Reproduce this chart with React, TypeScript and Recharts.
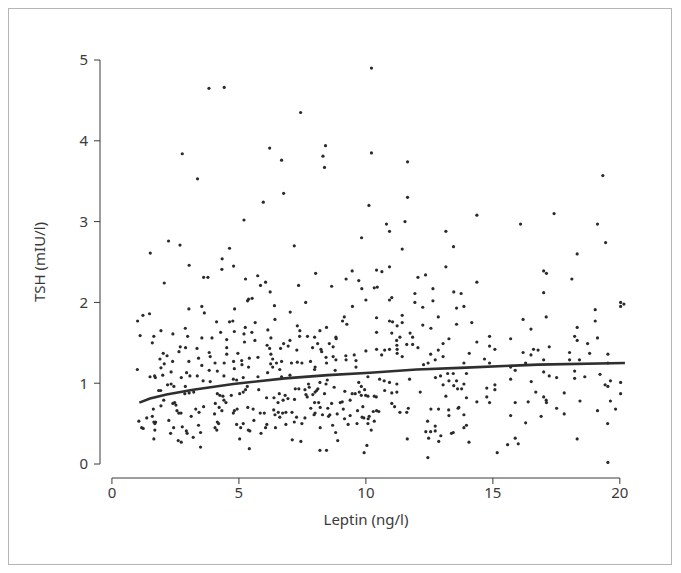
import { ReferenceLine, Scatter, ScatterChart, XAxis, YAxis } from "recharts";

// Leptin (ng/l), TSH (mIU/l) pairs
const highPoints = [
  [3.82, 4.65], [4.42, 4.66], [10.22, 4.9], [7.43, 4.35], [8.41, 3.94], [2.77, 3.84], [3.37, 3.53],
  [6.21, 3.91], [6.68, 3.76], [6.76, 3.35], [5.96, 3.24], [5.2, 3.02], [2.23, 2.76], [2.68, 2.71],
  [4.63, 2.67], [1.51, 2.61], [8.31, 3.81], [8.37, 3.67], [10.22, 3.85], [11.64, 3.74], [11.64, 3.3],
  [10.12, 3.2], [10.81, 2.97], [11.54, 3.0], [10.93, 2.88], [13.15, 2.88], [9.83, 2.8], [7.18, 2.7],
  [11.43, 2.66], [13.45, 2.69], [19.33, 3.57], [14.37, 3.08], [16.09, 2.97], [17.41, 3.1], [19.12, 2.97],
  [19.44, 2.74], [18.32, 2.6],
];

const midLeft = [
  [3.04, 2.46], [4.34, 2.54], [4.33, 2.41], [4.79, 2.45], [2.06, 2.24], [3.61, 2.31], [3.78, 2.31],
  [5.26, 2.29], [5.74, 2.33], [6.05, 2.25], [5.85, 2.21], [6.23, 2.13], [5.38, 2.04], [5.52, 2.05],
  [5.34, 2.02], [6.4, 1.96], [3.03, 1.92], [3.54, 1.95], [3.64, 1.87], [4.83, 1.92], [1.22, 1.84],
  [1.48, 1.86], [1.01, 1.77], [6.42, 1.79], [4.12, 1.76], [4.63, 1.76], [4.76, 1.77], [5.64, 1.75],
  [2.89, 1.68], [1.93, 1.65], [2.4, 1.61], [1.11, 1.59], [1.65, 1.58], [2.98, 1.58], [3.54, 1.56],
  [3.94, 1.56], [4.28, 1.63], [4.82, 1.64], [5.25, 1.69], [5.2, 1.61], [5.51, 1.63], [6.14, 1.66],
  [1.59, 1.5], [4.52, 1.54], [5.22, 1.51], [5.63, 1.53], [6.26, 1.56], [6.11, 1.47], [2.69, 1.45],
  [2.9, 1.44], [3.35, 1.43], [4.52, 1.44], [6.21, 1.43], [6.64, 1.43], [6.76, 1.49], [2.64, 1.39],
  [2.02, 1.37], [2.17, 1.34], [3.83, 1.38], [4.52, 1.36], [4.96, 1.37], [6.26, 1.36], [1.89, 1.3],
  [2.39, 1.27], [3.03, 1.27], [3.41, 1.31], [3.87, 1.33], [4.06, 1.25], [4.42, 1.25], [4.79, 1.27],
  [5.11, 1.28], [5.41, 1.31], [5.75, 1.32], [6.33, 1.3], [6.48, 1.25], [6.68, 1.27],
];

const midCenter = [
  [8.02, 2.36], [7.35, 2.21], [8.65, 2.2], [9.46, 2.39], [9.22, 2.29], [9.72, 2.27], [9.84, 2.17],
  [10.42, 2.4], [10.63, 2.38], [10.93, 2.44], [10.33, 2.18], [10.45, 2.19], [13.15, 2.44], [12.05, 2.31],
  [12.35, 2.34], [12.64, 2.17], [11.93, 2.11], [13.46, 2.13], [7.63, 2.0], [10.0, 2.03], [10.93, 2.03],
  [11.02, 2.06], [11.93, 2.0], [12.64, 2.02], [7.02, 1.88], [9.47, 1.95], [12.24, 1.94], [13.57, 1.93],
  [9.15, 1.82], [9.08, 1.77], [9.25, 1.73], [10.42, 1.81], [10.93, 1.77], [11.05, 1.76], [11.43, 1.84],
  [11.43, 1.75], [11.23, 1.71], [12.85, 1.82], [12.24, 1.72], [12.56, 1.68], [13.57, 1.73], [7.3, 1.71],
  [7.4, 1.65], [8.45, 1.69], [8.19, 1.65], [10.42, 1.63], [11.02, 1.62], [11.74, 1.62], [7.39, 1.58],
  [7.7, 1.58], [7.98, 1.57], [8.82, 1.57], [8.83, 1.55], [11.34, 1.57], [11.84, 1.57], [11.21, 1.53],
  [13.27, 1.55], [7.01, 1.53], [6.94, 1.46], [8.1, 1.49], [8.56, 1.49], [8.71, 1.45], [7.9, 1.44],
  [8.23, 1.42], [11.22, 1.47], [11.61, 1.48], [11.84, 1.48], [11.23, 1.42], [12.05, 1.44], [13.04, 1.49],
  [12.85, 1.41], [7.28, 1.41], [8.26, 1.39], [10.0, 1.4], [10.42, 1.42], [10.74, 1.41], [10.93, 1.42],
  [10.62, 1.35], [11.23, 1.37], [11.43, 1.33], [12.55, 1.36], [13.04, 1.33], [12.73, 1.29], [8.43, 1.32],
  [8.71, 1.33], [8.82, 1.29], [9.21, 1.34], [9.54, 1.35], [9.61, 1.28], [9.22, 1.29], [7.07, 1.25],
  [7.3, 1.26], [7.48, 1.25], [7.82, 1.27], [8.45, 1.25], [12.27, 1.23], [12.45, 1.25],
];

const midRight = [
  [17.0, 2.39], [17.11, 2.36], [18.11, 2.29], [14.37, 2.25], [17.0, 2.12], [13.75, 2.11], [20.03, 2.0],
  [20.16, 1.98], [20.03, 1.95], [19.03, 1.91], [13.86, 1.95], [17.1, 1.82], [16.19, 1.79], [19.03, 1.77],
  [14.17, 1.75], [16.5, 1.67], [18.32, 1.69], [14.87, 1.58], [15.7, 1.55], [18.22, 1.58], [18.32, 1.53],
  [19.12, 1.56], [14.37, 1.51], [14.87, 1.46], [15.08, 1.42], [16.6, 1.42], [16.78, 1.41], [17.22, 1.45],
  [18.73, 1.49], [14.07, 1.37], [16.19, 1.38], [16.5, 1.35], [18.02, 1.38], [18.81, 1.37], [19.53, 1.36],
  [14.67, 1.3], [17.0, 1.29], [18.02, 1.29], [18.41, 1.29], [13.86, 1.25], [14.87, 1.25], [16.29, 1.25],
];

const lowLeft = [
  [1.0, 1.17], [1.5, 1.08], [1.68, 1.09], [1.71, 1.07], [2.0, 1.1], [1.93, 1.19], [2.06, 1.24], [2.33, 1.14],
  [2.94, 1.13], [3.07, 1.09], [2.73, 1.07], [3.36, 1.09], [3.54, 1.22], [3.83, 1.16], [3.59, 1.03],
  [3.87, 1.02], [4.15, 1.15], [4.41, 1.09], [4.78, 1.05], [4.91, 1.04], [4.82, 1.18], [5.17, 1.07],
  [5.33, 0.96], [5.12, 1.23], [5.38, 1.2], [5.75, 1.08], [6.13, 1.13], [6.33, 1.2], [6.25, 1.24],
  [6.68, 1.08], [6.61, 1.17], [1.84, 0.91], [1.92, 0.91], [2.19, 0.98], [2.33, 0.99], [2.44, 0.96],
  [2.89, 0.96], [2.87, 0.87], [3.04, 0.88], [3.22, 0.89], [2.04, 0.79], [1.63, 0.68], [1.59, 0.59],
  [1.37, 0.57], [1.06, 0.53], [1.17, 0.45], [1.23, 0.44], [1.65, 0.52], [1.72, 0.52], [1.69, 0.5],
  [1.69, 0.42], [1.65, 0.31], [1.93, 0.72], [2.24, 0.54], [2.4, 0.75], [2.52, 0.73], [2.47, 0.76],
  [2.56, 0.66], [2.63, 0.63], [2.72, 0.63], [2.31, 0.38], [2.77, 0.46], [2.93, 0.41], [2.96, 0.38],
  [2.43, 0.45], [2.61, 0.29], [2.73, 0.27], [3.12, 0.59], [3.3, 0.68], [3.43, 0.64], [3.61, 0.71],
  [3.41, 0.48], [3.49, 0.39], [3.2, 0.33], [3.49, 0.21], [4.07, 0.75], [4.15, 0.87], [4.25, 0.85],
  [4.37, 0.84], [4.41, 0.79], [4.49, 0.76], [4.04, 0.62], [4.22, 0.7], [4.33, 0.66], [4.15, 0.52],
  [4.2, 0.5], [4.06, 0.45], [4.13, 0.42], [4.78, 0.63], [4.82, 0.66], [4.93, 0.68], [4.7, 0.85],
  [5.03, 0.87], [5.17, 0.89], [5.26, 0.92], [4.91, 0.49], [5.07, 0.45], [5.17, 0.5], [5.37, 0.42],
  [5.43, 0.41], [5.03, 0.31], [5.41, 0.19], [5.35, 0.7], [5.56, 0.68], [5.59, 0.54], [5.78, 0.92],
  [6.09, 0.82], [6.38, 0.82], [5.84, 0.63], [6.0, 0.63], [6.1, 0.49], [6.05, 0.45], [5.87, 0.38],
  [6.44, 0.45], [6.37, 0.67], [6.42, 0.61], [6.55, 0.64], [6.72, 0.63], [6.54, 0.76], [6.59, 0.87],
];

const lowCenter = [
  [8.0, 1.2], [7.98, 1.17], [8.79, 1.16], [9.61, 1.2], [7.01, 1.1], [10.08, 1.08], [11.72, 1.05],
  [12.74, 1.07], [12.94, 1.09], [13.22, 1.12], [13.44, 1.12], [13.04, 0.98], [13.27, 1.03], [13.46, 0.97],
  [13.15, 0.84], [12.14, 0.89], [10.54, 1.05], [10.72, 1.03], [10.93, 1.01], [11.22, 0.99], [10.74, 0.91],
  [11.02, 0.88], [11.22, 0.89], [9.72, 1.01], [9.82, 0.96], [9.95, 0.92], [10.08, 0.84], [9.74, 0.89],
  [9.82, 0.85], [9.99, 0.85], [9.46, 0.87], [9.58, 0.87], [9.17, 0.9], [8.75, 0.95], [8.99, 0.76],
  [9.38, 0.79], [9.11, 0.68], [9.67, 0.66], [9.88, 0.71], [10.33, 0.84], [10.41, 0.83], [11.02, 0.75],
  [11.13, 0.71], [11.67, 0.69], [11.61, 0.64], [11.34, 0.64], [12.56, 0.68], [12.86, 0.68], [13.26, 0.67],
  [13.27, 0.6], [13.63, 0.69], [10.29, 0.65], [10.42, 0.66], [10.51, 0.65], [10.13, 0.59], [9.92, 0.57],
  [10.09, 0.56], [10.08, 0.5], [10.33, 0.53], [10.21, 0.42], [9.85, 0.58], [9.65, 0.5], [9.3, 0.49],
  [9.38, 0.6], [9.16, 0.56], [8.87, 0.62], [8.58, 0.61], [8.53, 0.59], [8.5, 0.69], [8.29, 0.61],
  [8.2, 0.45], [8.81, 0.39], [8.89, 0.29], [8.69, 0.48], [8.19, 0.17], [8.45, 0.17], [10.04, 0.23],
  [9.93, 0.14], [11.63, 0.31], [7.1, 0.3], [7.44, 0.28], [6.85, 0.49], [7.18, 0.52], [7.48, 0.5],
  [7.6, 0.57], [7.96, 0.61], [8.0, 0.63], [6.85, 0.64], [7.09, 0.64], [7.27, 0.58], [7.83, 0.69],
  [6.82, 0.85], [6.93, 0.81], [6.74, 0.79], [7.19, 0.8], [7.22, 0.93], [7.36, 0.93], [7.6, 0.92],
  [7.74, 0.99], [7.77, 0.95], [7.64, 0.86], [7.69, 0.83], [7.91, 0.86], [8.0, 0.89], [8.06, 0.91],
  [8.11, 0.93], [8.19, 1.01], [7.98, 0.76], [8.14, 0.76], [8.37, 0.87], [8.43, 0.99], [8.48, 1.04],
  [9.07, 0.77], [8.65, 0.75], [8.2, 0.7], [6.61, 0.58], [12.43, 0.53], [12.36, 0.4], [12.55, 0.4],
  [12.73, 0.41], [12.73, 0.47], [12.95, 0.35], [12.87, 0.28], [12.47, 0.32], [12.44, 0.08], [13.37, 0.38],
  [13.44, 0.39],
];

const lowRight = [
  [15.7, 1.2], [15.88, 1.16], [19.53, 1.25], [13.96, 1.12], [13.57, 1.03], [13.86, 0.99], [13.61, 0.93],
  [13.77, 0.93], [14.76, 0.94], [15.08, 0.98], [15.08, 0.92], [15.7, 1.05], [16.51, 1.02], [17.0, 1.14],
  [17.22, 1.09], [17.51, 1.07], [18.22, 1.15], [18.22, 1.06], [18.62, 1.08], [19.22, 1.11], [19.42, 0.98],
  [19.53, 0.96], [19.63, 1.03], [20.03, 1.01], [20.03, 0.87], [13.96, 0.82], [14.37, 0.77], [14.76, 0.83],
  [14.87, 0.76], [15.88, 0.76], [16.39, 0.77], [16.69, 0.89], [17.0, 0.83], [17.1, 0.79], [17.11, 0.76],
  [17.81, 0.88], [18.43, 0.78], [19.63, 0.78], [13.66, 0.7], [13.86, 0.61], [17.51, 0.69], [17.81, 0.62],
  [16.9, 0.59], [15.7, 0.6], [19.12, 0.66], [19.83, 0.68], [13.86, 0.45], [13.96, 0.48], [16.29, 0.51],
  [19.52, 0.5], [14.06, 0.27], [15.88, 0.32], [16.0, 0.25], [15.58, 0.24], [15.17, 0.14], [18.32, 0.31],
  [19.53, 0.02],
];

// fitted curve
const trendLeptin = [1.08, 1.5, 2.15, 3.2, 4.78, 6.81, 8.5, 10.16, 12, 13.7, 16.78, 20.2];
const trendTsh = [0.76, 0.81, 0.86, 0.92, 0.99, 1.06, 1.1, 1.13, 1.17, 1.19, 1.23, 1.25];

const X_TICKS = [0, 5, 10, 15, 20];
const Y_TICKS = [0, 1, 2, 3, 4, 5];
const X_DOMAIN = [-0.47, 20.4];
const Y_DOMAIN = [-0.173, 5];

const points = [...highPoints, ...midLeft, ...midCenter, ...midRight, ...lowLeft, ...lowCenter, ...lowRight].map(
  ([leptin, tsh]) => ({ leptin, tsh })
);
const trend = trendLeptin.map((leptin, i) => ({ leptin, tsh: trendTsh[i] }));

const FONT = "'Noto Sans', 'Open Sans', sans-serif";
const INK = "#3a3a3a";

const Dot = (props: any) => <circle cx={props.cx} cy={props.cy} r={1.6} fill="#2a2a2a" />;

export default function App() {
  return (
    <div
      style={{
        width: 664,
        height: 557,
        border: "1px solid #b5b5b5",
        boxSizing: "border-box",
        fontFamily: FONT,
        background: "#fff",
      }}
    >
      <ScatterChart width={662} height={555} margin={{ top: 51, right: 41, bottom: 26, left: 31 }}>
        <XAxis
          type="number"
          dataKey="leptin"
          domain={X_DOMAIN}
          ticks={X_TICKS}
          axisLine={false}
          tickLine={{ stroke: INK }}
          tickSize={6}
          tickMargin={3}
          height={60}
          tick={{ fill: INK, fontSize: 15 }}
        />
        <YAxis
          type="number"
          dataKey="tsh"
          domain={Y_DOMAIN}
          ticks={Y_TICKS}
          axisLine={false}
          tickLine={{ stroke: INK }}
          tickSize={6}
          tickMargin={6}
          width={60}
          tick={{ fill: INK, fontSize: 15 }}
        />
        <ReferenceLine
          segment={[
            { x: X_TICKS[0], y: Y_DOMAIN[0] },
            { x: X_TICKS[X_TICKS.length - 1], y: Y_DOMAIN[0] },
          ]}
          stroke={INK}
          ifOverflow="visible"
        />
        <ReferenceLine
          segment={[
            { x: X_DOMAIN[0], y: Y_TICKS[0] },
            { x: X_DOMAIN[0], y: Y_TICKS[Y_TICKS.length - 1] },
          ]}
          stroke={INK}
          ifOverflow="visible"
        />
        <Scatter data={points} shape={Dot} isAnimationActive={false} />
        <Scatter
          data={trend}
          shape={() => <g />}
          line={{ stroke: "#2f2f2f", strokeWidth: 2.6 }}
          lineType="joint"
          isAnimationActive={false}
        />
        <text x={357} y={516} textAnchor="middle" fill={INK} fontSize={15}>
          Leptin (ng/l)
        </text>
        <text x={36} y={253} textAnchor="middle" fill={INK} fontSize={15} transform="rotate(-90 36 253)">
          TSH (mIU/l)
        </text>
      </ScatterChart>
    </div>
  );
}
